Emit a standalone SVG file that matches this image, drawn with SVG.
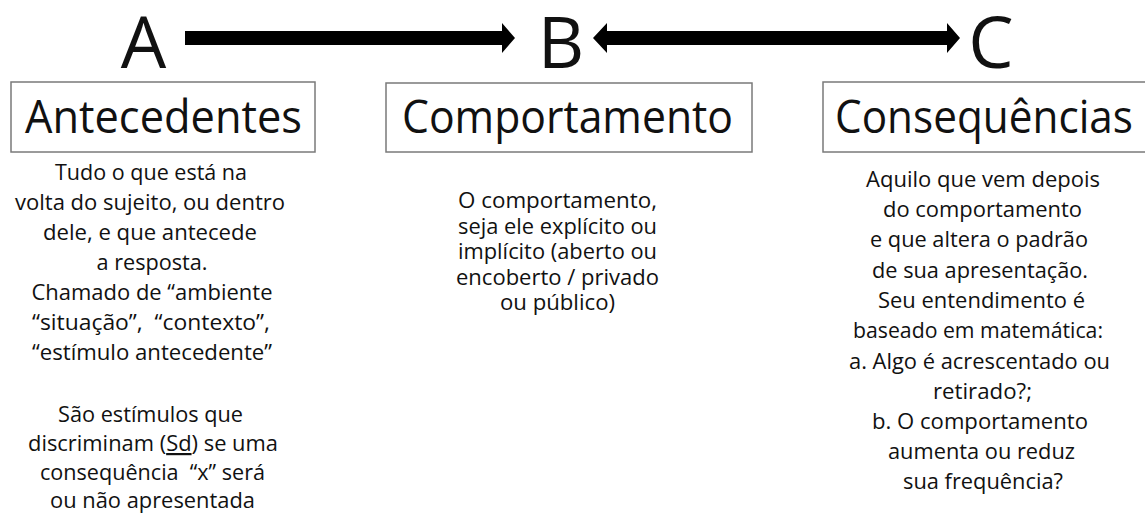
<svg xmlns="http://www.w3.org/2000/svg" width="1145" height="518" viewBox="0 0 1145 518">
<style>
text{font-family:"Open Sans","Noto Sans","Liberation Sans",sans-serif;fill:#111;text-anchor:middle}
.big{font-size:72px}
.title{font-size:45px}
.body{font-size:22px}
.box{fill:#fff;stroke:#7a7a7a;stroke-width:1.5}
.arrow{fill:#000}
</style>
<rect width="1145" height="518" fill="#fff"/>
<g id="connectors">
<path class="arrow" d="M185,31 L502,31 L502,23 L515,38 L502,53 L502,45 L185,45 Z"/>
<path class="arrow" d="M593,38 L607,23 L607,31 L947,31 L947,23 L960,38 L947,53 L947,45 L607,45 L607,53 Z"/>
</g>
<g id="node-a">
<text class="big" x="143.5" y="68">A</text>
<rect class="box" x="11" y="82" width="304" height="70"/>
<text class="title" x="163.5" y="133" textLength="277" lengthAdjust="spacingAndGlyphs">Antecedentes</text>
<g class="body">
<text x="151" y="180" textLength="192" lengthAdjust="spacingAndGlyphs">Tudo o que está na</text>
<text x="150" y="210" textLength="270" lengthAdjust="spacingAndGlyphs">volta do sujeito, ou dentro</text>
<text x="150" y="240" textLength="214" lengthAdjust="spacingAndGlyphs">dele, e que antecede</text>
<text x="152" y="270" textLength="111" lengthAdjust="spacingAndGlyphs">a resposta.</text>
<text x="152" y="300" textLength="241" lengthAdjust="spacingAndGlyphs">Chamado de “ambiente</text>
<text x="151" y="330" textLength="238" lengthAdjust="spacingAndGlyphs">“situação”,&#160; “contexto”,</text>
<text x="152" y="360" textLength="240" lengthAdjust="spacingAndGlyphs">“estímulo antecedente”</text>
<text x="150.5" y="422" textLength="185" lengthAdjust="spacingAndGlyphs">São estímulos que</text>
<text x="153" y="451" textLength="250" lengthAdjust="spacingAndGlyphs">discriminam (<tspan text-decoration="underline">Sd</tspan>) se uma</text>
<text x="152.5" y="479.5" textLength="225" lengthAdjust="spacingAndGlyphs">consequência&#160; “x” será</text>
<text x="152.5" y="508" textLength="205" lengthAdjust="spacingAndGlyphs">ou não apresentada</text>
</g>
</g>
<g id="node-b">
<text class="big" x="561" y="68">B</text>
<rect class="box" x="386" y="83" width="366" height="69"/>
<text class="title" x="567.5" y="133" textLength="331" lengthAdjust="spacingAndGlyphs">Comportamento</text>
<g class="body">
<text x="557.5" y="208" textLength="199" lengthAdjust="spacingAndGlyphs">O comportamento,</text>
<text x="557.5" y="233.5" textLength="199" lengthAdjust="spacingAndGlyphs">seja ele explícito ou</text>
<text x="557.5" y="259" textLength="199" lengthAdjust="spacingAndGlyphs">implícito (aberto ou</text>
<text x="557.5" y="284.5" textLength="203" lengthAdjust="spacingAndGlyphs">encoberto / privado</text>
<text x="557.5" y="310" textLength="115" lengthAdjust="spacingAndGlyphs">ou público)</text>
</g>
</g>
<g id="node-c">
<text class="big" x="991" y="68">C</text>
<rect class="box" x="823" y="82" width="324" height="70"/>
<text class="title" x="984" y="133" textLength="298" lengthAdjust="spacingAndGlyphs">Consequências</text>
<g class="body">
<text x="983" y="187" textLength="234" lengthAdjust="spacingAndGlyphs">Aquilo que vem depois</text>
<text x="982.5" y="217" textLength="199" lengthAdjust="spacingAndGlyphs">do comportamento</text>
<text x="979" y="247" textLength="218" lengthAdjust="spacingAndGlyphs">e que altera o padrão</text>
<text x="980" y="277.5" textLength="216" lengthAdjust="spacingAndGlyphs">de sua apresentação.</text>
<text x="981.5" y="308" textLength="207" lengthAdjust="spacingAndGlyphs">Seu entendimento é</text>
<text x="978" y="338" textLength="250" lengthAdjust="spacingAndGlyphs">baseado em matemática:</text>
<text x="979.5" y="368.5" textLength="261" lengthAdjust="spacingAndGlyphs">a. Algo é acrescentado ou</text>
<text x="982.5" y="398.5" textLength="99" lengthAdjust="spacingAndGlyphs">retirado?;</text>
<text x="980" y="429" textLength="216" lengthAdjust="spacingAndGlyphs">b. O comportamento</text>
<text x="981.5" y="459" textLength="187" lengthAdjust="spacingAndGlyphs">aumenta ou reduz</text>
<text x="983" y="489" textLength="160" lengthAdjust="spacingAndGlyphs">sua frequência?</text>
</g>
</g>
</svg>
